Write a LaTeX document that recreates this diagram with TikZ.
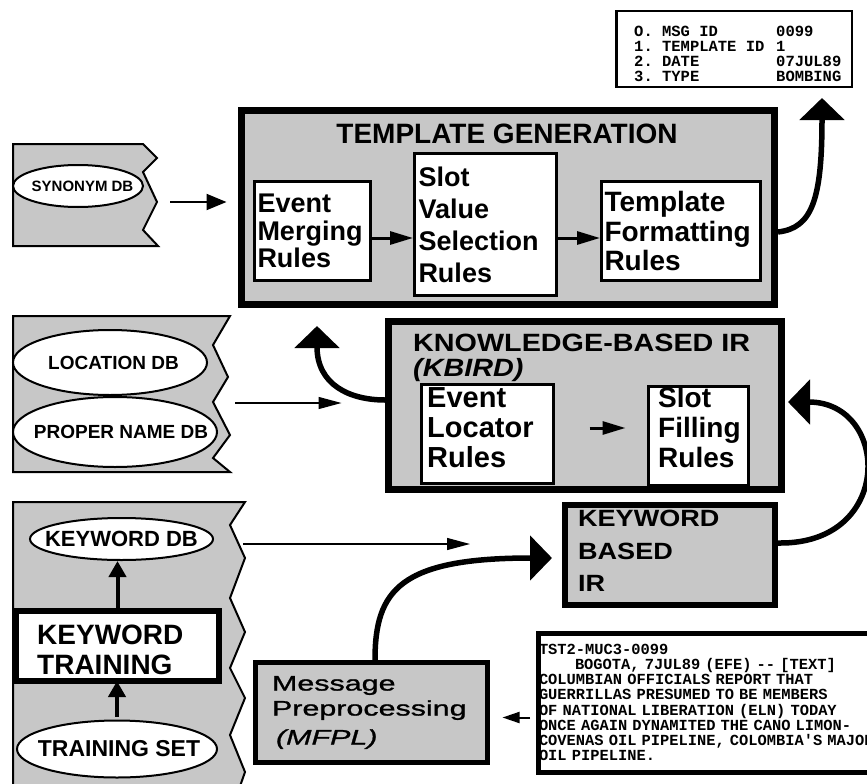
\documentclass[tikz,border=0pt]{standalone}
\usepackage{fontspec}
\setmainfont{Liberation Sans}
\setmonofont{Liberation Mono}
\newfontfamily\widesans{Liberation Sans}[FakeStretch=1.45,FakeBold=1.2]
\newfontfamily\kbsans{Liberation Sans}[FakeStretch=1.15]
\usetikzlibrary{arrows.meta,shapes.geometric}
\definecolor{halftone}{gray}{0.78}
\begin{document}
\begin{tikzpicture}[x=1pt,y=-1pt,
  bigbox/.style={draw, line width=7pt, fill=halftone},
  rulebox/.style={draw, line width=3pt, fill=white, align=left, inner xsep=3pt, inner ysep=0pt},
  plainbox/.style={draw, line width=3pt, fill=white},
  boxtext/.style={anchor=north west, inner sep=0pt, align=left},
  db/.style={draw, ellipse, line width=2pt, fill=white, inner sep=0pt},
  paper/.style={draw, line width=2pt, fill=halftone, line join=miter},
  thinarr/.style={line width=1.3pt, -{Triangle[length=23pt,width=12pt]}},
  synarr/.style={line width=2pt, -{Triangle[length=20pt,width=16pt]}},
  smallarr/.style={line width=2pt, -{Triangle[length=17pt,width=11pt]}},
  midarr/.style={line width=3pt, -{Triangle[length=23pt,width=13pt]}},
  thickarr/.style={line width=4pt, -{Triangle[length=16pt,width=17pt]}},
  fatarr/.style={line width=5.5pt, -{Triangle[length=22pt,width=44pt]}}
]
\useasboundingbox (0,0) rectangle (867,784);
\clip (0,0) rectangle (867,784);
\fill[white] (0,0) rectangle (867,784);

% ---------- left "paper" stacks ----------
\draw[paper] (13,144) -- (143,144) -- (157,158) -- (143,172) -- (157,202) -- (143,230) -- (158,246) -- (13,246) -- cycle;
\draw[paper] (13,316) -- (230,316) -- (213,345) -- (228,377) -- (213,402) -- (230,435) -- (213,458) -- (230,472) -- (13,472) -- cycle;
\draw[paper] (13,502) -- (245,502) -- (230,525) -- (245,558) -- (230,598) -- (245,632) -- (230,668) -- (245,698) -- (230,735) -- (245,772) -- (238,792) -- (13,792) -- cycle;

\node[db, minimum width=130pt, minimum height=42pt, font=\bfseries\fontsize{15}{17}\selectfont] (syn) at (78,186) {\makebox[0pt]{\kern9pt SYNONYM DB}};
\node[db, minimum width=194pt, minimum height=65pt, font=\bfseries\fontsize{19}{21}\selectfont] (loc) at (110,362.5) {\makebox[0pt]{\kern7pt LOCATION DB}};
\node[db, minimum width=204pt, minimum height=70pt, font=\bfseries\fontsize{19}{21}\selectfont] (prop) at (115,432) {\makebox[0pt]{\kern12pt PROPER NAME DB}};
\node[db, minimum width=183pt, minimum height=42pt, font=\bfseries\fontsize{22}{24}\selectfont] (kwdb) at (121.5,539) {\makebox[0pt]{KEYWORD DB}};
\node[db, minimum width=200pt, minimum height=57pt, font=\bfseries\fontsize{23}{25}\selectfont] (trs) at (117,749) {\makebox[0pt]{\kern4pt TRAINING SET}};
\node[draw, line width=6pt, fill=white, minimum width=203pt, minimum height=70pt] (kwtrain) at (117.5,646) {};
\node[boxtext, font=\bfseries\fontsize{28}{30}\selectfont] (kwtraint) at (37,624.5) {KEYWORD\\TRAINING};

% ---------- template generation ----------
\node[bigbox, minimum width=533pt, minimum height=194pt] (tg) at (508,207.5) {};
\node[anchor=base, inner sep=0pt, font=\bfseries\fontsize{28}{30}\selectfont] (tgt) at (507,143) {TEMPLATE GENERATION};
\node[rulebox, minimum width=116pt, minimum height=99pt, text width=110pt, font=\bfseries\fontsize{27}{27.5}\selectfont] (em) at (312.5,231) {Event\\Merging\\Rules};
\node[rulebox, minimum width=142pt, minimum height=142pt, text width=134pt, inner xsep=4pt, font=\bfseries\fontsize{27}{32}\selectfont] (svs) at (485.5,224.5) {Slot\\Value\\Selection\\Rules};
\node[rulebox, minimum width=159pt, minimum height=99pt, text width=153pt, font=\bfseries\fontsize{28}{29.5}\selectfont] (tf) at (681,231) {Template\\Formatting\\Rules};
\draw[midarr] ([yshift=-7pt]em.east) -- ([yshift=-7pt]em.east -| svs.west);
\draw[midarr] ([yshift=-13.5pt]svs.east) -- ([yshift=-13.5pt]svs.east -| tf.west);

% ---------- output template ----------
\node[draw, line width=2.5pt, fill=white, minimum width=235.5pt, minimum height=75.5pt] (tplout) at (734,49) {};
\node[boxtext, font=\ttfamily\bfseries\fontsize{15.5}{15}\selectfont] (tplt) at (634,25.5)
  {\makebox[142pt][l]{O. MSG ID}0099\\
   \makebox[142pt][l]{1. TEMPLATE ID}1\\
   \makebox[142pt][l]{2. DATE}07JUL89\\
   \makebox[142pt][l]{3. TYPE}BOMBING};
\coordinate (outtip) at (822,98);
\draw[fatarr] ([yshift=-24.5pt]tg.east) .. controls (812,228) and (822,200) .. (outtip);

% ---------- knowledge-based IR ----------
\node[bigbox, minimum width=393pt, minimum height=168pt] (kb) at (585,405.5) {};
\node[boxtext, font=\kbsans\bfseries\fontsize{25}{25}\selectfont] (kbt) at (413,334) {KNOWLEDGE-BASED IR\\\itshape (KBIRD)};
\node[plainbox, minimum width=132pt, minimum height=99pt] (el) at (487.5,434) {};
\node[boxtext, font=\bfseries\fontsize{29}{30}\selectfont] (elt) at (427,387) {Event\\Locator\\Rules};
\node[plainbox, minimum width=100pt, minimum height=99pt] (sf) at (698.5,436) {};
\node[boxtext, font=\bfseries\fontsize{28}{30}\selectfont] (sft) at (658,387) {Slot\\Filling\\Rules};
\draw[midarr, shorten <=34.5pt, shorten >=21.5pt] ([yshift=6pt]el.east) -- ([yshift=6pt]el.east -| sf.west);
\coordinate (kbup) at (317,326);
\draw[fatarr] ([yshift=5.5pt]kb.west) .. controls (350,400) and (317,385) .. (kbup);

% ---------- keyword based IR ----------
\node[draw, line width=6pt, fill=halftone, minimum width=210pt, minimum height=100pt] (kbir) at (670,555) {};
\node[boxtext, font=\kbsans\bfseries\fontsize{23.5}{32.5}\selectfont] (kbirt) at (578,510) {KEYWORD\\BASED\\IR};
\coordinate (kbin) at (788,402);
\draw[fatarr] ([yshift=12pt]kbir.east) .. controls (895,545) and (890,402) .. (kbin);

% ---------- message preprocessing ----------
\node[draw, line width=5pt, fill=halftone, minimum width=232pt, minimum height=100pt, text width=199pt, inner xsep=16.5pt, inner ysep=0pt, align=left, font=\widesans\fontsize{21}{25}\selectfont] (mp) at (371.5,712.5) {Message\\Preprocessing\\[4pt]\hspace*{4pt}\itshape(MFPL)};
\coordinate (kbirin) at (552,558);
\draw[fatarr] ([xshift=3.5pt]mp.north) .. controls (375,590) and (400,558) .. (kbirin);

% ---------- message text ----------
\node[draw, line width=5pt, fill=white, anchor=north west, minimum width=370pt, minimum height=139pt, text width=368pt, inner xsep=0pt, inner ysep=0pt, align=left, font=\ttfamily\bfseries\fontsize{15.4}{15.2}\selectfont] (msg) at (535.5,630.5)
  {TST2-MUC3-0099\\
   \hspace*{36pt}BOGOTA, 7JUL89 (EFE) -- [TEXT]\\
   COLUMBIAN OFFICIALS REPORT THAT\\
   GUERRILLAS PRESUMED TO BE MEMBERS\\
   OF NATIONAL LIBERATION (ELN) TODAY\\
   ONCE AGAIN DYNAMITED THE CANO LIMON-\\
   COVENAS OIL PIPELINE, COLOMBIA'S MAJOR\\
   OIL PIPELINE.};
\draw[smallarr, shorten <=5.5pt, shorten >=12.5pt] ([yshift=-15pt]msg.west) -- ([yshift=-15pt]msg.west -| mp.east);

% ---------- thin input arrows ----------
\coordinate (synout) at (170,202);
\draw[synarr, shorten >=11.5pt] (synout) -- (synout -| tg.west);
\coordinate (locout) at (235,403);
\draw[thinarr, shorten >=43.5pt] (locout) -- (locout -| kb.west);
\coordinate (kwout) at (243,544);
\draw[thinarr, shorten >=92pt] (kwout) -- (kwout -| kbir.west);

% ---------- keyword training arrows ----------
\draw[thickarr, shorten <=3pt, shorten >=-3pt] (trs.north) -- (trs.north |- kwtrain.south);
\draw[thickarr] (kwtrain.north) -- (kwtrain.north |- kwdb.south);
\end{tikzpicture}
\end{document}
